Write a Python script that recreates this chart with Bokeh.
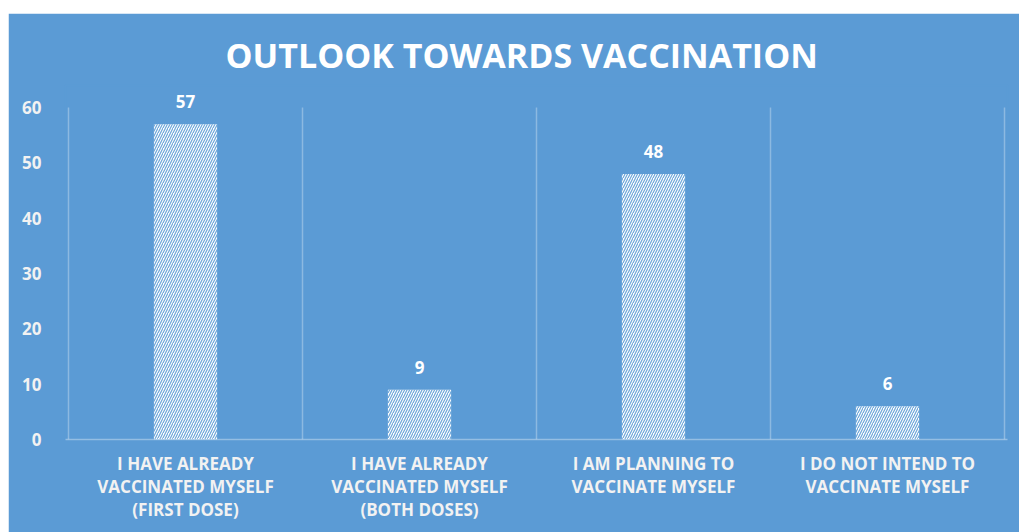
from bokeh.plotting import figure
from bokeh.models import FixedTicker, Spacer, ColumnDataSource, LabelSet
from bokeh.layouts import column, row
from bokeh.embed import file_html
from bokeh.resources import INLINE
from bokeh.core.properties import value

categories = [
    "I HAVE ALREADY\nVACCINATED MYSELF\n(FIRST DOSE)",
    "I HAVE ALREADY\nVACCINATED MYSELF\n(BOTH DOSES)",
    "I AM PLANNING TO\nVACCINATE MYSELF",
    "I DO NOT INTEND TO\nVACCINATE MYSELF",
]
counts = [57, 9, 48, 6]
y_ticks = [0, 10, 20, 30, 40, 50, 60]

BG = "#5B9BD5"
FONT = "Open Sans"
W = 1011
pad = 3 / 234  # small margin so the outer category dividers are drawn

positions = [i + 0.5 for i in range(len(categories))]
src = ColumnDataSource(dict(x=positions, top=counts, lab=[str(c) for c in counts]))

p = figure(width=W, height=519, x_range=(-pad, len(categories) + pad), y_range=(0, 64),
           output_backend="svg", toolbar_location=None,
           title="OUTLOOK TOWARDS VACCINATION",
           background_fill_color=BG, border_fill_color=BG,
           outline_line_color=BG, outline_line_width=2,
           min_border_left=57, min_border_right=12, min_border_bottom=93, min_border_top=72)

p.title.align = "left"
p.title.offset = 160
p.title.text_color = "white"
p.title.text_font = FONT
p.title.text_font_style = "bold"
p.title.text_font_size = "34px"
p.title.standoff = 16

p.vbar(x="x", top="top", width=0.27, source=src, fill_color="white", line_color=None,
       hatch_pattern="right_diagonal_line", hatch_color=BG, hatch_weight=1.2,
       hatch_scale=5, hatch_alpha=0.9)

labels = LabelSet(x="x", y="top", text="lab", source=src, text_color="white",
                  text_font=value(FONT), text_font_style="bold", text_font_size="17px",
                  text_align="center", text_baseline="bottom", y_offset=16)
p.add_layout(labels)

# axes
p.yaxis.ticker = FixedTicker(ticks=y_ticks)
p.yaxis.axis_line_color = None
p.yaxis.major_tick_line_color = None
p.yaxis.minor_tick_line_color = None
p.yaxis.major_label_text_color = "#F2F2F2"
p.yaxis.major_label_text_font = FONT
p.yaxis.major_label_text_font_style = "bold"
p.yaxis.major_label_text_font_size = "17px"
p.yaxis.major_label_standoff = 18

p.xaxis.ticker = FixedTicker(ticks=positions)
p.xaxis.major_label_overrides = {pos: cat for pos, cat in zip(positions, categories)}
p.xaxis.axis_line_color = "white"
p.xaxis.axis_line_alpha = 0.35
p.xaxis.axis_line_width = 1.5
p.xaxis.major_tick_line_color = None
p.xaxis.minor_tick_line_color = None
p.xaxis.major_label_text_color = "#F2F2F2"
p.xaxis.major_label_text_font = FONT
p.xaxis.major_label_text_font_style = "bold"
p.xaxis.major_label_text_font_size = "17px"
p.xaxis.major_label_text_line_height = 1.0
p.xaxis.major_label_standoff = 6

p.ygrid.grid_line_color = None
p.xgrid.ticker = FixedTicker(ticks=list(range(len(categories) + 1)))
p.xgrid.cross_bounds = (0, max(y_ticks))
p.xgrid.grid_line_color = "white"
p.xgrid.grid_line_alpha = 0.3
p.xgrid.grid_line_width = 1.5

layout = column(Spacer(height=13, width=W + 8), row(Spacer(width=8, height=519), p))
open("out.html", "w").write(file_html(layout, INLINE))
